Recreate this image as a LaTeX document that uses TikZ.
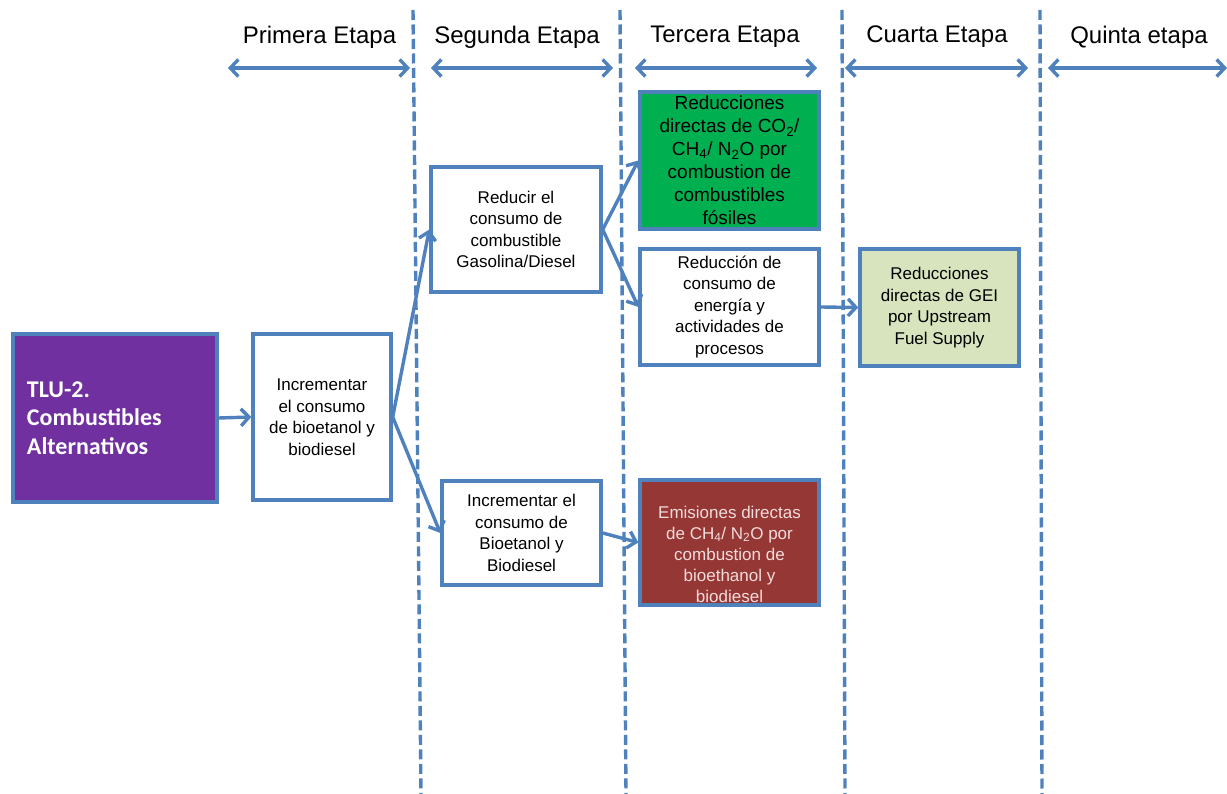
\documentclass[tikz,border=0pt]{standalone}
\usepackage{fontspec}
\setmainfont{Liberation Sans}
\newfontfamily\calibri{Carlito}
\usetikzlibrary{arrows.meta,shadows}
\definecolor{linkblue}{HTML}{4F81BD}
\definecolor{tlupurple}{HTML}{7030A0}
\definecolor{fossilgreen}{HTML}{00B050}
\definecolor{bioRed}{HTML}{953735}
\definecolor{paleGreen}{HTML}{D7E4BD}
\definecolor{paleRose}{HTML}{F2DCDB}

\begin{document}
\begin{tikzpicture}[x=1pt,y=-1pt,
  tip/.tip={Straight Barb[length=8pt,width=17pt]},
  box/.style={draw=linkblue, line width=3.4pt, fill=white, rectangle,
    inner sep=0pt, align=center, font=\fontsize{17}{21.5}\selectfont},
  link/.style={draw=linkblue, line width=3.4pt, -tip},
  span/.style={draw=linkblue, line width=3.4pt, tip-tip},
  divider/.style={draw=linkblue, line width=3.4pt, dash pattern=on 10pt off 4.5pt},
  stage/.style={font=\fontsize{24}{28}\selectfont, inner sep=0pt}]

\useasboundingbox (0,0) rectangle (1227,794);

% stage dividers
\coordinate (d1t) at (413,10);  \coordinate (d1b) at (421,794);
\coordinate (d2t) at (620,10);  \coordinate (d2b) at (626,794);
\coordinate (d3t) at (842,10);  \coordinate (d3b) at (845,794);
\coordinate (d4t) at (1040,10); \coordinate (d4b) at (1042,794);
\draw[divider] (d1t) -- (d1b);
\draw[divider] (d2t) -- (d2b);
\draw[divider] (d3t) -- (d3b);
\draw[divider] (d4t) -- (d4b);

% stage headings
\node[stage] (s1) at (319.5,37) {Primera Etapa};
\node[stage] (s2) at (517,37) {Segunda Etapa};
\node[stage] (s3) at (725,37) {Tercera Etapa};
\node[stage] (s4) at (937,37) {Cuarta Etapa};
\node[stage] (s5) at (1139,37) {Quinta etapa};

% stage spans
\coordinate (a1l) at (228,68);  \coordinate (a1r) at (410,68);
\coordinate (a2l) at (431,68);  \coordinate (a2r) at (613,68);
\coordinate (a3l) at (635,68);  \coordinate (a3r) at (817,68);
\coordinate (a4l) at (845,68);  \coordinate (a4r) at (1028,68);
\coordinate (a5l) at (1048,68); \coordinate (a5r) at (1227,68);
\draw[span] (a1l) -- (a1r);
\draw[span] (a2l) -- (a2r);
\draw[span] (a3l) -- (a3r);
\draw[span] (a4l) -- (a4r);
\draw[span] (a5l) -- (a5r);

% boxes
\node[box, fill=tlupurple, text=white, align=left, text width=176pt,
  inner xsep=14pt, minimum width=204pt, minimum height=168pt,
  font=\calibri\bfseries\fontsize{24}{28.5}\selectfont,
  drop shadow={shadow xshift=2pt, shadow yshift=-2pt, opacity=0.35}]
  (tlu) at (115,418) {TLU-2.\\Combustibles\\Alternativos};

\node[box, minimum width=138pt, minimum height=166pt] (inc) at (322,417)
  {Incrementar\\el consumo\\de bioetanol y\\biodiesel};

\node[box, minimum width=170pt, minimum height=125pt] (fuel) at (516,229.5)
  {Reducir el\\consumo de\\combustible\\Gasolina/Diesel};

\node[box, minimum width=159pt, minimum height=104pt] (bio) at (521.5,533)
  {Incrementar el\\consumo de\\Bioetanol y\\Biodiesel};

\node[box, fill=fossilgreen, minimum width=179pt, minimum height=137pt,
  font=\fontsize{19}{23}\selectfont] (fossil) at (729.5,160.5)
  {Reducciones\\directas de CO\textsubscript{2}/\\CH\textsubscript{4}/ N\textsubscript{2}O por\\combustion de\\combustibles\\fósiles};

\node[box, minimum width=179pt, minimum height=116pt] (energy) at (729.5,307)
  {Reducción de\\consumo de\\energía y\\actividades de\\procesos};

\node[box, fill=bioRed, minimum width=179pt, minimum height=125pt] (emis) at (729.5,542.5) {};
\node[align=center, inner sep=0pt, text=paleRose,
  font=\fontsize{17}{21}\selectfont] (emistext) at (729.5,554)
  {Emisiones directas\\de CH\textsubscript{4}/ N\textsubscript{2}O por\\combustion de\\bioethanol y\\biodiesel};

\node[box, fill=paleGreen, minimum width=159pt, minimum height=117pt] (upstream) at (939.5,307.5)
  {Reducciones\\directas de GEI\\por Upstream\\Fuel Supply};

% connectors
\draw[link] (tlu.east) -- (inc.west);
\draw[link] (inc.east) -- (fuel.west);
\draw[link] (inc.east) -- (bio.west);
\draw[link] (fuel.east) -- (fossil.west);
\draw[link] (fuel.east) -- (energy.west);
\draw[link] (bio.east) -- (emis.west);
\draw[link] (energy.east) -- (upstream.west);

\end{tikzpicture}
\end{document}
